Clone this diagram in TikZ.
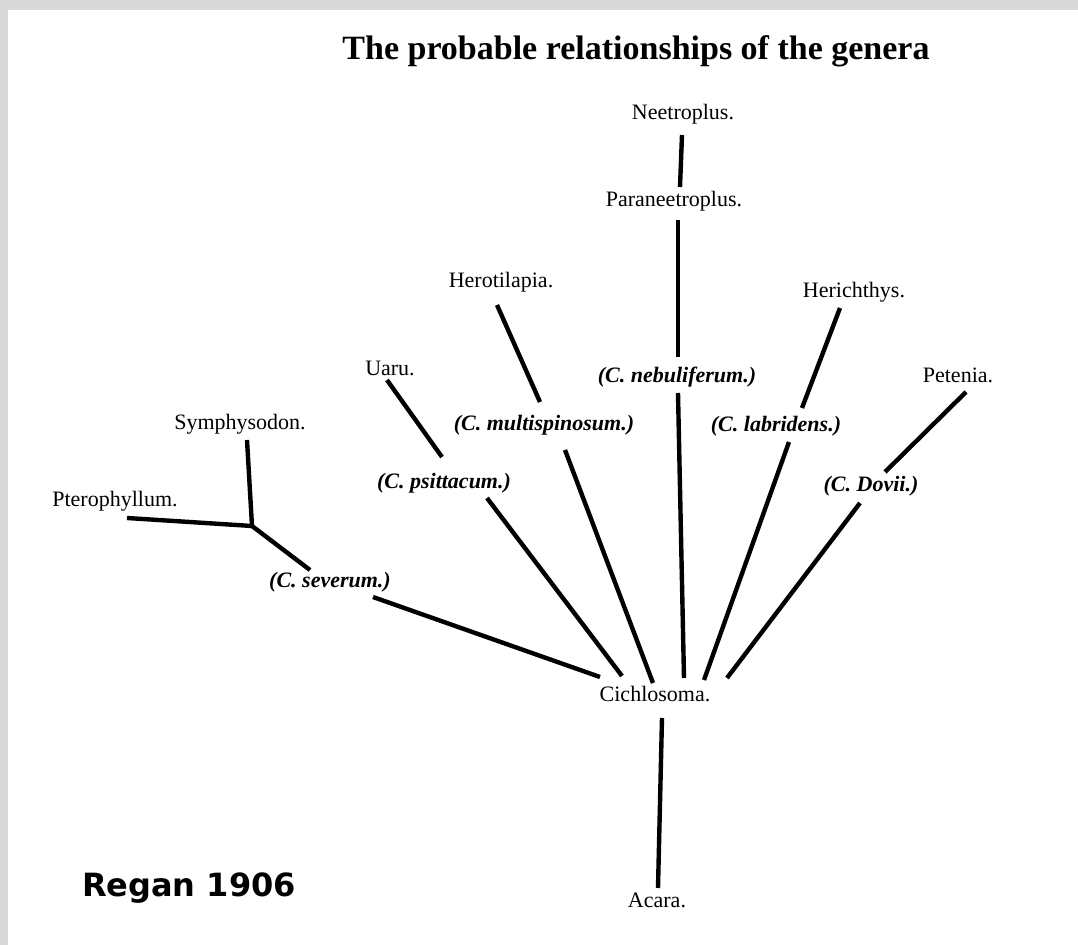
\documentclass[tikz,border=0pt]{standalone}
\usepackage{fontspec}
\setmainfont{Liberation Serif}
\newfontfamily\regfont{DejaVu Sans}
\definecolor{framegrey}{HTML}{D9D9D9}
\begin{document}
\begin{tikzpicture}[x=0.5pt,y=-0.5pt,
  lbl/.style={inner sep=0pt,anchor=base,font=\fontsize{11}{13}\selectfont},
  spc/.style={lbl,font=\fontsize{11}{13}\selectfont\bfseries\itshape},
  branch/.style={line width=2.2pt}]
\useasboundingbox (0,0) rectangle (1078,945);
\fill[framegrey] (0,0) rectangle (1078,945);
\fill[white] (8,10) rectangle (1078,945);

% title and caption
\node[inner sep=0pt,anchor=base,font=\fontsize{17}{20}\selectfont\bfseries] (title) at (636,60) {The probable relationships of the genera};
\node[inner sep=0pt,anchor=base,font=\fontsize{16}{19}\selectfont\regfont\bfseries] (regan) at (189,897) {Regan 1906};

% labels
\node[lbl] (neetro) at (683,120) {Neetroplus.};
\node[lbl] (paraneetro) at (674,207) {Paraneetroplus.};
\node[spc] (nebul) at (677,383) {(C. nebuliferum.)};
\node[lbl] (herich) at (854,298) {Herichthys.};
\node[lbl] (petenia) at (958,383) {Petenia.};
\node[spc] (labrid) at (776,432) {(C. labridens.)};
\node[spc] (dovii) at (871,492) {(C. Dovii.)};
\node[lbl] (symph) at (240,430) {Symphysodon.};
\node[lbl] (ptero) at (115,507) {Pterophyllum.};
\node[spc] (psitt) at (444,489) {(C. psittacum.)};
\node[spc] (severum) at (330,588) {(C. severum.)};
\node[lbl] (uaru) at (390,376) {Uaru.};
\node[lbl] (herotil) at (501,288) {Herotilapia.};
\node[spc] (multi) at (544,431) {(C. multispinosum.)};
\node[lbl] (cichlo) at (655,702) {Cichlosoma.};
\node[lbl] (acara) at (657,908) {Acara.};

% connector end points
\coordinate (neetro-s) at (682,135);
\coordinate (para-n) at (680,187);
\coordinate (para-s) at (678,220);
\coordinate (nebul-n) at (678,357);
\coordinate (nebul-s) at (678,393);
\coordinate (cich-n4) at (684,678);
\coordinate (herot-s) at (497,305);
\coordinate (multi-n) at (540,402);
\coordinate (multi-s) at (565,450);
\coordinate (cich-n3) at (653,683);
\coordinate (uaru-s) at (387,380);
\coordinate (psitt-n) at (442,457);
\coordinate (psitt-s) at (487,498);
\coordinate (cich-n2) at (622,676);
\coordinate (symph-s) at (247,440);
\coordinate (junct) at (252,526);
\coordinate (ptero-e) at (127,518);
\coordinate (sev-n) at (310,570);
\coordinate (sev-e) at (373,597);
\coordinate (cich-n1) at (600,677);
\coordinate (herich-s) at (840,308);
\coordinate (labrid-n) at (802,408);
\coordinate (labrid-s) at (789,442);
\coordinate (cich-n5) at (704,680);
\coordinate (peten-s) at (966,392);
\coordinate (dovii-n) at (885,472);
\coordinate (dovii-s) at (860,503);
\coordinate (cich-n6) at (727,678);
\coordinate (cich-s) at (662,718);
\coordinate (acara-n) at (658,888);

% connectors
\draw[branch] (neetro-s) -- (para-n);
\draw[branch] (para-s) -- (nebul-n);
\draw[branch] (nebul-s) -- (cich-n4);
\draw[branch] (herot-s) -- (multi-n);
\draw[branch] (multi-s) -- (cich-n3);
\draw[branch] (uaru-s) -- (psitt-n);
\draw[branch] (psitt-s) -- (cich-n2);
\draw[branch] (symph-s) -- (junct);
\draw[branch] (ptero-e) -- (junct);
\draw[branch] (junct) -- (sev-n);
\draw[branch] (sev-e) -- (cich-n1);
\draw[branch] (herich-s) -- (labrid-n);
\draw[branch] (labrid-s) -- (cich-n5);
\draw[branch] (peten-s) -- (dovii-n);
\draw[branch] (dovii-s) -- (cich-n6);
\draw[branch] (cich-s) -- (acara-n);
\end{tikzpicture}
\end{document}
